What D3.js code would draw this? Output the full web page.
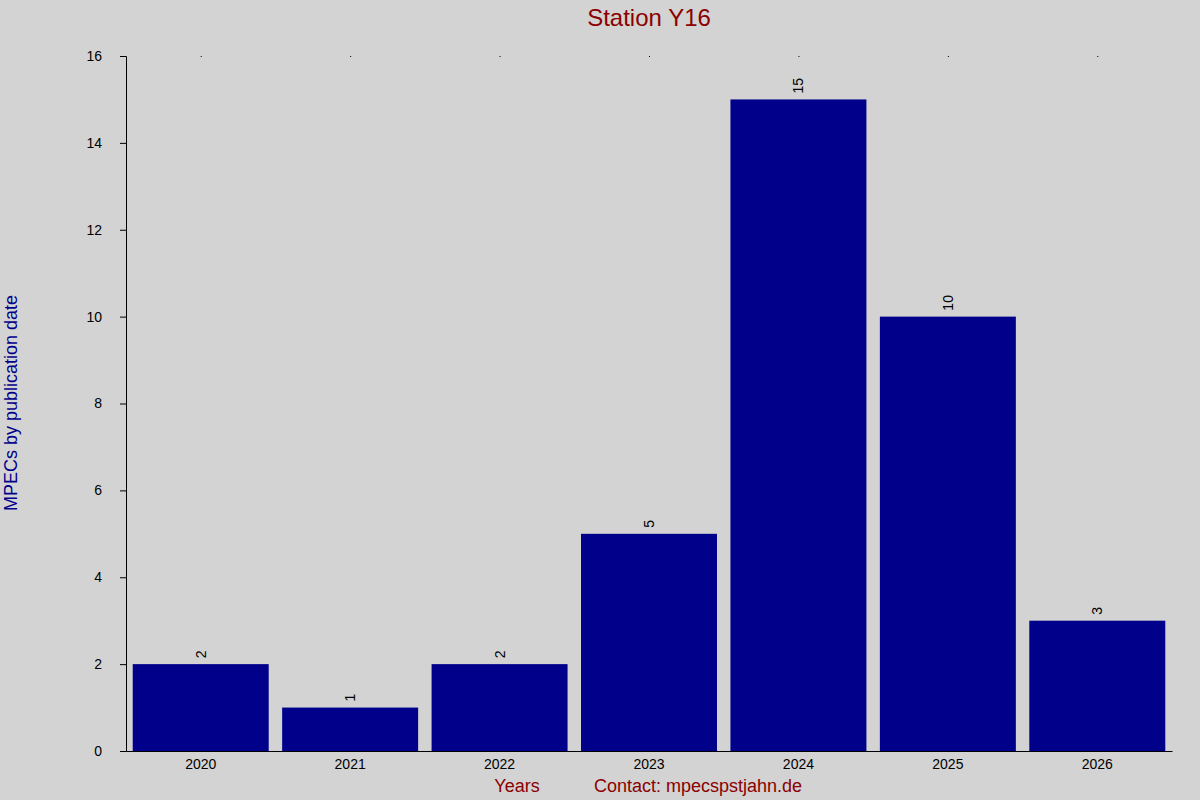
<!DOCTYPE html>
<html>
<head>
<meta charset="utf-8">
<script src="https://cdn.jsdelivr.net/npm/d3@7"></script>
<style>
  body { margin: 0; background: #d3d3d3; }
  text { font-family: "Liberation Sans", Arial, sans-serif; }
</style>
</head>
<body>
<script>
const years = ["2020", "2021", "2022", "2023", "2024", "2025", "2026"];
const counts = [2, 1, 2, 5, 15, 10, 3];
const yTicks = [0, 2, 4, 6, 8, 10, 12, 14, 16];

const W = 1200, H = 800;
const plotLeft = 126, plotRight = 1172, plotTop = 56, plotBottom = 751;

const svg = d3.select("body").append("svg")
  .attr("width", W).attr("height", H)
  .style("background", "#d3d3d3");

const x = d3.scaleBand().domain(years).range([plotLeft, plotRight]).paddingInner(0.09).paddingOuter(0.045);
const y = d3.scaleLinear().domain([0, 16]).range([plotBottom, plotTop]);

svg.selectAll("rect.bar")
  .data(counts)
  .enter().append("rect")
  .attr("class", "bar")
  .attr("x", (d, i) => x(years[i]))
  .attr("y", d => y(d))
  .attr("width", x.bandwidth())
  .attr("height", d => plotBottom - y(d))
  .attr("fill", "#00008b");

svg.selectAll("text.val")
  .data(counts)
  .enter().append("text")
  .attr("class", "val")
  .attr("transform", (d, i) => `translate(${x(years[i]) + x.bandwidth() / 2 + 5},${y(d) - 6}) rotate(-90)`)
  .attr("font-size", 14)
  .text(d => d);

// y axis
const yAxis = svg.append("g")
  .attr("transform", `translate(${plotLeft},0)`)
  .call(d3.axisLeft(y).tickValues(yTicks).tickSize(6).tickPadding(18));
yAxis.selectAll("text").attr("font-size", 14).attr("fill", "#000")
  .style("font-family", "Liberation Sans, Arial, sans-serif");
yAxis.selectAll("line,path").attr("stroke", "#000");

// x axis
const xAxis = svg.append("g")
  .attr("transform", `translate(0,${plotBottom})`)
  .call(d3.axisBottom(x).tickSize(0).tickPadding(8));
xAxis.selectAll("text").attr("font-size", 14).attr("fill", "#000")
  .style("font-family", "Liberation Sans, Arial, sans-serif");
xAxis.select("path").attr("stroke", "#000");

// top tick dots
svg.selectAll("rect.dot")
  .data(years)
  .enter().append("rect")
  .attr("class", "dot")
  .attr("x", d => x(d) + x.bandwidth() / 2)
  .attr("y", plotTop)
  .attr("width", 1).attr("height", 1)
  .attr("fill", "#000");

svg.append("text")
  .attr("x", 649).attr("y", 26)
  .attr("text-anchor", "middle")
  .attr("font-size", 24)
  .attr("fill", "#8b0000")
  .text("Station Y16");

svg.append("text")
  .attr("transform", `translate(17,403) rotate(-90)`)
  .attr("text-anchor", "middle")
  .attr("font-size", 18)
  .attr("fill", "#00008b")
  .text("MPECs by publication date");

svg.append("text")
  .attr("x", 517).attr("y", 792)
  .attr("text-anchor", "middle")
  .attr("font-size", 18)
  .attr("fill", "#8b0000")
  .text("Years");

svg.append("text")
  .attr("x", 698).attr("y", 792)
  .attr("text-anchor", "middle")
  .attr("font-size", 18)
  .attr("fill", "#8b0000")
  .text("Contact: mpecspstjahn.de");
</script>
</body>
</html>
